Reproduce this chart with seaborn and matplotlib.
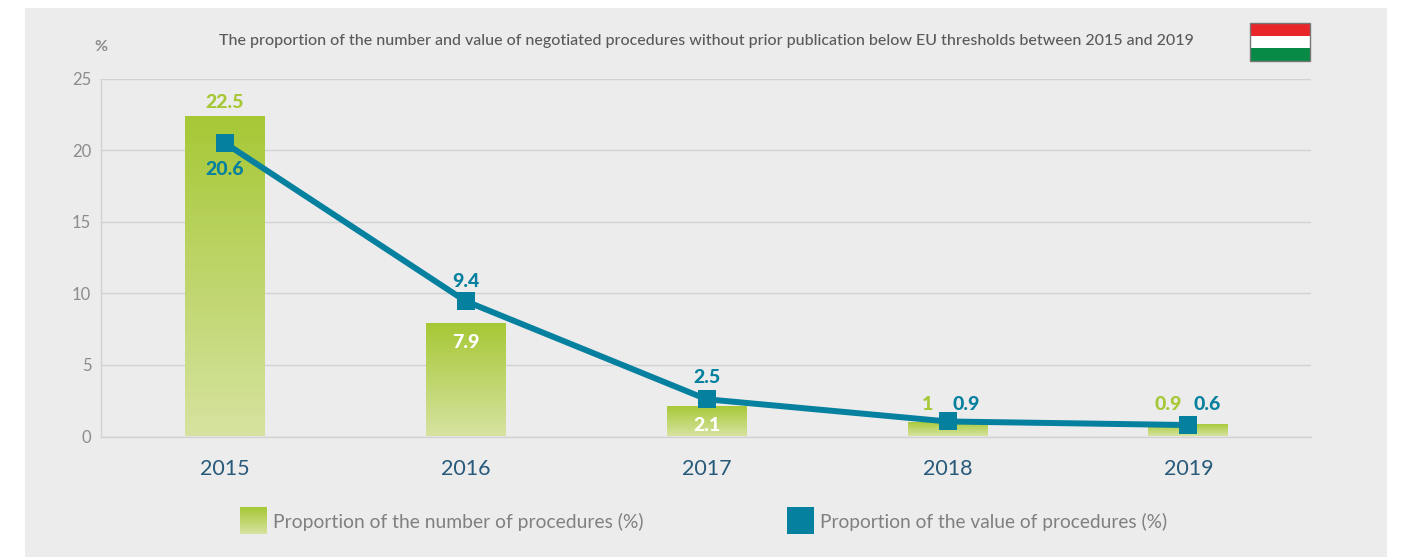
import numpy as np
import pandas as pd
import matplotlib
matplotlib.use("Agg")
import matplotlib.pyplot as plt
from matplotlib.colors import LinearSegmentedColormap
from matplotlib.patches import Rectangle
import seaborn as sns

years = ["2015", "2016", "2017", "2018", "2019"]
number_share = [22.4, 7.9, 2.1, 1.0, 0.9]
value_share = [20.5, 9.45, 2.6, 1.05, 0.8]
number_labels = ["22.5", "7.9", "2.1", "1", "0.9"]
value_labels = ["20.6", "9.4", "2.5", "0.9", "0.6"]
y_ticks = [0, 5, 10, 15, 20, 25]
title = ("The proportion of the number and value of negotiated procedures "
         "without prior publication below EU thresholds between 2015 and 2019")
legend_number = "Proportion of the number of procedures (%)"
legend_value = "Proportion of the value of procedures (%)"

W, H = 1401, 557
GREEN, TEAL = "#a6c835", "#05809f"
PALE = "#d6e3a0"
GRID = "#d2d2d2"
FONT = ["Lato", "DejaVu Sans"]
grad = LinearSegmentedColormap.from_list("g", [GREEN, PALE])
ramp = np.linspace(0, 1, 256).reshape(-1, 1)

sns.set_theme(style="white")
plt.rcParams["font.family"] = FONT

fig = plt.figure(figsize=(W / 100, H / 100), dpi=100, facecolor="white")
def fx(x): return x / W
def fy(y): return 1 - y / H

fig.add_artist(Rectangle((fx(25), 0), (1387 - 25) / W, fy(8), transform=fig.transFigure,
                         fc="#ececec", ec="none", zorder=-5))

ax = fig.add_axes([fx(101), fy(436.5), 1210 / W, 358 / H])
ax.patch.set_alpha(0)
df = pd.DataFrame({"year": years, "number": number_share, "value": value_share})
sns.barplot(data=df, x="year", y="number", ax=ax, width=0.332, color=GREEN, zorder=2)
sns.lineplot(data=df, x="year", y="value", ax=ax, color=TEAL, linewidth=4.3, marker="s",
             markersize=12.5, markeredgewidth=0, zorder=4, errorbar=None)

for p in list(ax.patches):
    x0, x1 = p.get_x(), p.get_x() + p.get_width()
    im = ax.imshow(ramp, cmap=grad, aspect="auto", extent=(x0, x1, 0, p.get_height()),
                   origin="upper", zorder=2)
    im.set_clip_path(p)
    p.set_facecolor("none")
    p.set_edgecolor("none")

ax.set_xlim(-0.5135, 4.5085)
ax.set_ylim(0, 25)
ax.set_yticks(y_ticks)
ax.set_xlabel("")
ax.set_ylabel("")
ax.yaxis.grid(True, color=GRID, lw=1.0, zorder=0)
ax.xaxis.grid(False)
ax.set_axisbelow(True)
for s in ["top", "right"]:
    ax.spines[s].set_visible(False)
for s in ["left", "bottom"]:
    ax.spines[s].set_color(GRID)
    ax.spines[s].set_linewidth(1.0)
ax.tick_params(axis="y", length=0, pad=7, labelsize=12, labelcolor="#8c8c8c")
ax.tick_params(axis="x", length=0, pad=16.5, labelsize=15.5, labelcolor="#27597a")

def px(v): return v * 0.72

number_offsets = [(0, 13), (0, -19), (0, -19), (-20, 18), (-20, 19)]
value_offsets = [(0, -27), (0, 20), (0, 22), (19, 17), (19, 21)]
number_colors = [GREEN, "white", "white", GREEN, GREEN]
for i, (txt, v, off, c) in enumerate(zip(number_labels, number_share, number_offsets, number_colors)):
    ax.annotate(txt, (i, v), xytext=(px(off[0]), px(off[1])), textcoords="offset points",
                ha="center", va="center", fontsize=14, fontweight="black", color=c, zorder=5)
for i, (txt, v, off) in enumerate(zip(value_labels, value_share, value_offsets)):
    ax.annotate(txt, (i, v), xytext=(px(off[0]), px(off[1])), textcoords="offset points",
                ha="center", va="center", fontsize=14, fontweight="black", color=TEAL, zorder=5)

fig.text(fx(706), fy(41), title, ha="center", va="center", fontsize=11.53, color="#5a5a5a",
         fontweight="medium")
fig.text(fx(101), fy(47), "%", ha="center", va="center", fontsize=11.5, fontweight="bold", color="#8c8c8c")

# flag
for k, col in enumerate(["#e8262a", "#ffffff", "#088a47"]):
    fig.add_artist(Rectangle((fx(1250), fy(23 + 38 * (k + 1) / 3)), 60 / W, (38 / 3) / H,
                             transform=fig.transFigure, fc=col, ec="none", zorder=3))
fig.add_artist(Rectangle((fx(1250), fy(61)), 60 / W, 38 / H, transform=fig.transFigure,
                         fc="none", ec="#777777", lw=1, zorder=4))

# legend
sw = fig.add_axes([fx(240), fy(534), 27 / W, 27 / H])
sw.imshow(ramp, cmap=grad, aspect="auto")
sw.axis("off")
fig.add_artist(Rectangle((fx(787), fy(534)), 27 / W, 27 / H, transform=fig.transFigure,
                         fc=TEAL, ec="none"))
fig.text(fx(273), fy(522), legend_number, ha="left", va="center", fontsize=13.9, color="#808080")
fig.text(fx(820), fy(522), legend_value, ha="left", va="center", fontsize=13.8, color="#808080")

fig.savefig("out.png", dpi=100, facecolor="white")
